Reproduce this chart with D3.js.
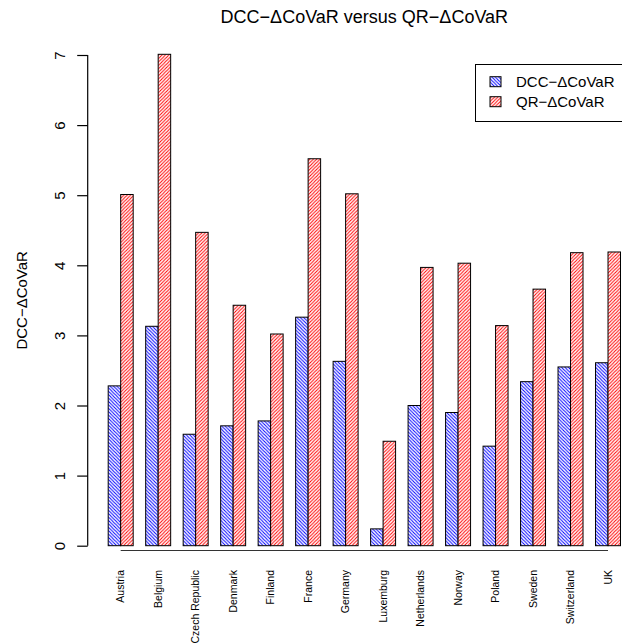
<!DOCTYPE html>
<html>
<head>
<meta charset="utf-8">
<script src="https://cdn.jsdelivr.net/npm/d3@7"></script>
<style>
  html, body { margin: 0; padding: 0; background: #fff; }
  svg { display: block; font-family: "Liberation Sans", Arial, Helvetica, sans-serif; }
</style>
</head>
<body>
<svg id="chart" width="622" height="643"></svg>
<script>
const countries = ["Austria","Belgium","Czech Republic","Denmark","Finland","France","Germany","Luxemburg","Netherlands","Norway","Poland","Sweden","Switzerland","UK"];
const dccValues = [2.28, 3.13, 1.59, 1.71, 1.78, 3.26, 2.63, 0.24, 2.00, 1.90, 1.42, 2.34, 2.55, 2.61];
const qrValues  = [5.01, 7.01, 4.47, 3.43, 3.02, 5.52, 5.02, 1.49, 3.97, 4.03, 3.14, 3.66, 4.18, 4.19];
const seriesNames = ["DCC\u2212\u0394CoVaR", "QR\u2212\u0394CoVaR"];
const yTicks = [0, 1, 2, 3, 4, 5, 6, 7];
const titleText = "DCC\u2212\u0394CoVaR versus QR\u2212\u0394CoVaR";
const yLabel = "DCC\u2212\u0394CoVaR";

const svg = d3.select("#chart");

// Scales (R-style user coordinates)
const xUnit = d3.scaleLinear().domain([-0.64, 43.64]).range([87.7, 641]);
const x0 = d3.scaleBand().domain(countries).range([xUnit(1), xUnit(42)]).paddingInner(1/3).paddingOuter(0);
const x1 = d3.scaleBand().domain([0, 1]).range([0, x0.bandwidth()]);
const y = d3.scaleLinear().domain([0, 7]).range([545.7, 55]);

// Hatch patterns
const defs = svg.append("defs");
function hatch(id, color, dir) {
  const s = 3.4;
  const p = defs.append("pattern").attr("id", id)
    .attr("patternUnits", "userSpaceOnUse").attr("width", s).attr("height", s);
  p.append("rect").attr("width", s).attr("height", s).attr("fill", "#fff");
  const d = dir > 0
    ? `M${-s/2},${s/2} L${s/2},${-s/2} M0,${s} L${s},0 M${s/2},${s*1.5} L${s*1.5},${s/2}`
    : `M${-s/2},${s/2} L${s/2},${s*1.5} M0,0 L${s},${s} M${s/2},${-s/2} L${s*1.5},${s/2}`;
  p.append("path").attr("d", d).attr("stroke", color).attr("stroke-width", 1);
}
hatch("hatchBlue", "#0000ff", -1);
hatch("hatchRed", "#ff0000", 1);
const fills = ["url(#hatchBlue)", "url(#hatchRed)"];

// Title
svg.append("text").attr("x", (xUnit(-0.64) + xUnit(43.64)) / 2).attr("y", 22.5)
  .attr("text-anchor", "middle").attr("font-size", 18).attr("fill", "#000").text(titleText);

// Bars
const data = countries.map((c, i) => ({ c, v: [dccValues[i], qrValues[i]] }));
const groups = svg.append("g").selectAll("g").data(data).join("g")
  .attr("transform", d => `translate(${x0(d.c)},0)`);
groups.selectAll("rect").data(d => d.v.map((v, k) => ({ v, k }))).join("rect")
  .attr("x", d => x1(d.k))
  .attr("y", d => y(d.v))
  .attr("width", x1.bandwidth())
  .attr("height", d => y(0) - y(d.v))
  .attr("fill", d => fills[d.k])
  .attr("stroke", "#000").attr("stroke-width", 1);

// Y axis
const yAxis = d3.axisLeft(y).tickValues(yTicks).tickFormat(d3.format("d")).tickSize(10.5).tickPadding(0);
const yg = svg.append("g").attr("transform", `translate(${xUnit(-0.64)},0)`).call(yAxis);
yg.select(".domain").remove();
yg.append("line").attr("x1", 0).attr("x2", 0).attr("y1", y(7)).attr("y2", y(0))
  .attr("stroke", "#000").attr("stroke-width", 1.2);
yg.selectAll(".tick line").attr("stroke", "#000").attr("stroke-width", 1.2);
yg.selectAll(".tick text")
  .attr("font-size", 15).attr("fill", "#000").attr("font-family", null)
  .attr("text-anchor", "middle")
  .attr("x", null).attr("dy", null)
  .attr("transform", "translate(-22.7,0) rotate(-90)");

// Y label
svg.append("text").attr("transform", `translate(26.5,${(y(0) + y(7)) / 2}) rotate(-90)`)
  .attr("text-anchor", "middle").attr("font-size", 15).attr("fill", "#000").text(yLabel);

// X axis line and labels
const centers = countries.map(c => x0(c) + x0.bandwidth() / 2);
svg.append("line").attr("x1", centers[0]).attr("x2", centers[centers.length - 1])
  .attr("y1", 550.5).attr("y2", 550.5).attr("stroke", "#333").attr("stroke-width", 1);
const xAxis = d3.axisBottom(x0).tickSize(0).tickPadding(0);
const xg = svg.append("g").attr("transform", "translate(0,570)").call(xAxis);
xg.select(".domain").remove();
xg.selectAll(".tick text")
  .attr("font-size", 10.5).attr("fill", "#000")
  .attr("text-anchor", "end").attr("y", null).attr("dy", null)
  .attr("transform", "translate(3.7,0) rotate(-90)");

// Legend
const lg = svg.append("g");
lg.append("rect").attr("x", 475.5).attr("y", 64.5).attr("width", 170).attr("height", 57)
  .attr("fill", "#fff").attr("stroke", "#000").attr("stroke-width", 1);
seriesNames.forEach((name, k) => {
  const cy = 81.7 + k * 20;
  lg.append("rect").attr("x", 490).attr("y", cy - 5).attr("width", 11).attr("height", 10)
    .attr("fill", fills[k]).attr("stroke", "#000").attr("stroke-width", 1);
  lg.append("text").attr("x", 516).attr("y", cy + 5.3).attr("font-size", 15).attr("fill", "#000").text(name);
});
</script>
</body>
</html>
